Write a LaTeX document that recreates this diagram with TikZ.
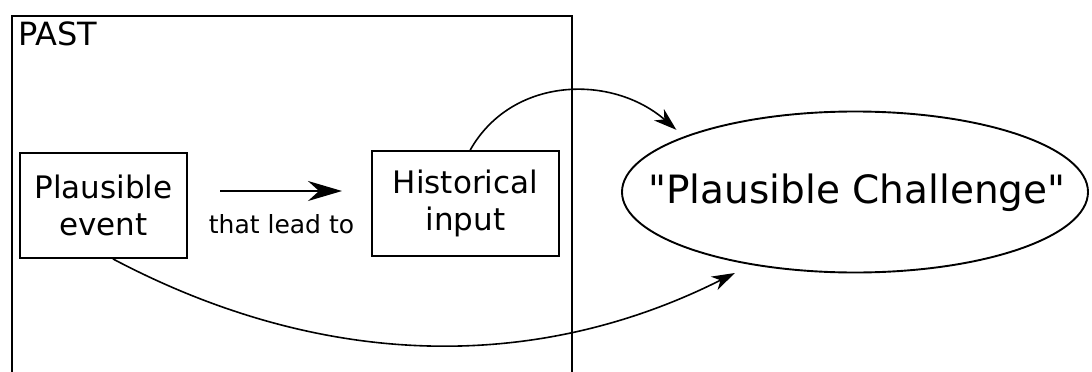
\documentclass[tikz,border=0pt]{standalone}
\usepackage{fontspec}
\setmainfont{DejaVu Sans}[Ligatures=TeXOff]
\usetikzlibrary{arrows.meta}
\usetikzlibrary{shapes.geometric}

\tikzset{
  box/.style={draw, line width=1.8pt, align=center, inner sep=0pt,
    font=\fontsize{31}{37}\selectfont},
  bigtip/.style={-{Stealth[length=34pt, width=20pt, inset=11pt]}},
  smalltip/.style={-{Stealth[length=23pt, width=15pt, inset=7pt]}}
}

\begin{document}
\begin{tikzpicture}[x=1pt, y=1pt]
  \def\W{1092}
  \def\H{372}

  \useasboundingbox (0,0) rectangle (\W,-\H);

  %PAST frame (its bottom lies below the page)
  \node[draw, line width=1.7pt, anchor=north west, minimum width=560pt,
    minimum height=420pt, inner sep=0pt] (past) at (11,-15) {};
  \node[anchor=north west, inner sep=7pt, font=\fontsize{32}{38}\selectfont]
    (past label) at (past.north west) {PAST};

  %boxes
  \node[box, minimum width=167pt, minimum height=105pt] (event) at (103.5,-205.5) {Plausible\\event};
  \node[box, minimum width=187pt, minimum height=105pt] (input) at (465.5,-203.5) {Historical\\input};

  \node[font=\fontsize{25}{30}\selectfont] (lead) at (281.5,-224) {that lead to};
  \coordinate (lead start) at (220,-191);
  \coordinate (lead end) at (342,-191);
  \draw[bigtip, line width=2.2pt] (lead start) -- (lead end);

  %Challenge
  \node[draw, ellipse, line width=1.9pt, minimum width=466pt, minimum height=161pt] (challenge) at (855,-192) {};
  \node[font=\fontsize{39}{46}\selectfont] (challenge text) at (857,-193) {"Plausible Challenge"};

  %curved arrows
  \draw[smalltip, line width=1.6pt, shorten >=10pt] (input.85) .. controls (512,-76) and (612,-74) .. (challenge.162);
  \draw[smalltip, line width=1.6pt, shorten >=18pt] (event.-80) .. controls (325,-371) and (538,-372) .. (challenge.215);
\end{tikzpicture}
\end{document}
